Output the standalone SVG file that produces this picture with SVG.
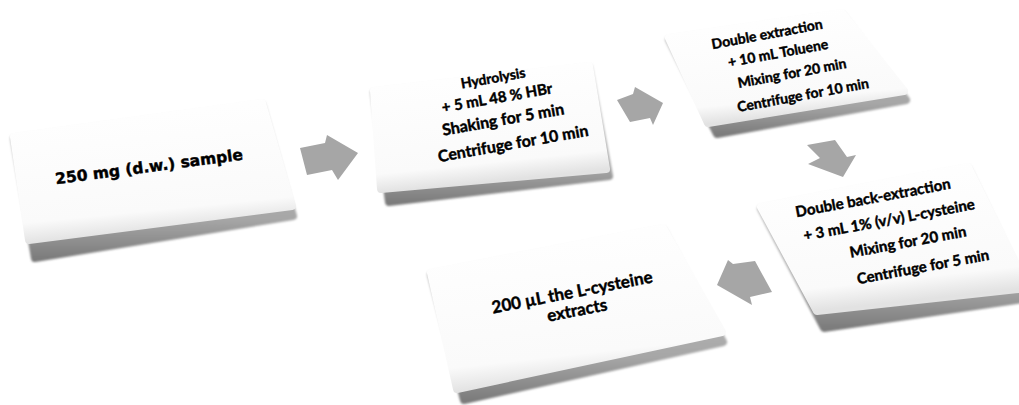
<svg xmlns="http://www.w3.org/2000/svg" width="1019" height="405" viewBox="0 0 1019 405">
<defs>
<linearGradient id="side" x1="0" y1="0" x2="0" y2="1">
<stop offset="0" stop-color="#d0d0d0"/>
<stop offset="0.75" stop-color="#a6a6a6"/>
<stop offset="1" stop-color="#7c7c7c"/>
</linearGradient>
<linearGradient id="top" x1="0" y1="0" x2="0.2" y2="1">
<stop offset="0" stop-color="#ffffff"/>
<stop offset="0.85" stop-color="#fafafa"/>
<stop offset="1" stop-color="#e2e2e2"/>
</linearGradient>
<filter id="soft" x="-5%" y="-5%" width="110%" height="115%">
<feGaussianBlur stdDeviation="1.2"/>
</filter>
</defs>
<style>
.side{fill:url(#side);stroke:url(#side);stroke-width:8;stroke-linejoin:round;filter:url(#soft)}
.top{fill:url(#top);stroke:url(#top);stroke-width:8;stroke-linejoin:round}
.t{font-family:Lato,"Liberation Sans",sans-serif;font-weight:bold;fill:#000;stroke:#000;stroke-width:0.45;text-anchor:middle}
.d{font-family:"DejaVu Sans",sans-serif}
.arrow{fill:#a6a6a6}
</style>
<rect width="1019" height="405" fill="#ffffff"/>
<g id="connectors">
<polygon class="arrow" points="300,148 325,143 327,135 358,153 338,180 332,170 307,175"/>
<polygon class="arrow" points="617,100 633,94 635,87 663,103 653,125 650,118 630,122"/>
<polygon class="arrow" points="807,145 835,140 847,157 856,155 843,177 808,164 820,158"/>
<polygon class="arrow" points="717,285 728,260 733,264 755,261 772,292 750,297 752,305"/>
</g>
<g id="node1">
<polygon class="side" points="14,139 262,105 293,216 35,258"/>
<polygon class="top" points="14,137 262,103 292,206 29,240"/>
<text class="t d" font-size="15.5" transform="rotate(-7.5 149 166)" x="149" y="172">250 mg (d.w.) sample</text>
</g>
<g id="node2">
<polygon class="side" points="374,93 589,68 609,176 389,202"/>
<polygon class="top" points="374,91 589,66 606,169 381,189"/>
<text class="t" font-size="14" transform="rotate(-10 493 78)" x="493" y="83">Hydrolysis</text>
<text class="t" font-size="15" transform="rotate(-10 497 98)" x="497" y="103">+ 5 mL 48 % HBr</text>
<text class="t" font-size="16" transform="rotate(-10 503 119)" x="503" y="125">Shaking for 5 min</text>
<text class="t" font-size="16" transform="rotate(-10 513 143)" x="513" y="149">Centrifuge for 10 min</text>
</g>
<g id="node3">
<polygon class="side" points="669,40 842,15 906,100 717,134"/>
<polygon class="top" points="669,38 842,13 904,91 708,123"/>
<text class="t" font-size="14" transform="rotate(-10.5 767 34)" x="767" y="39">Double extraction</text>
<text class="t" font-size="14" transform="rotate(-10.5 778 53)" x="778" y="58">+ 10 mL Toluene</text>
<text class="t" font-size="14" transform="rotate(-10.5 792 73)" x="792" y="78">Mixing for 20 min</text>
<text class="t" font-size="14" transform="rotate(-10.5 803 95)" x="803" y="100">Centrifuge for 10 min</text>
</g>
<g id="node4">
<polygon class="side" points="761,209 968,169 1030,298 824,328"/>
<polygon class="top" points="761,207 968,167 1028,288 817,311"/>
<text class="t" font-size="15" transform="rotate(-10.5 873 198)" x="873" y="203">Double back-extraction</text>
<text class="t" font-size="15" transform="rotate(-10.5 889 220)" x="889" y="225">+ 3 mL 1% (v/v) L-cysteine</text>
<text class="t" font-size="15" transform="rotate(-10.5 908 242)" x="908" y="247">Mixing for 20 min</text>
<text class="t" font-size="15" transform="rotate(-10.5 923 267)" x="923" y="272">Centrifuge for 5 min</text>
</g>
<g id="node5">
<polygon class="side" points="431,275 663,230 723,342 464,400"/>
<polygon class="top" points="431,273 663,228 722,332 457,389"/>
<text class="t" font-size="17" transform="rotate(-11 572 292)" x="572" y="298">200 µL the L-cysteine</text>
<text class="t" font-size="17" transform="rotate(-11 577 310)" x="577" y="316">extracts</text>
</g>
</svg>
